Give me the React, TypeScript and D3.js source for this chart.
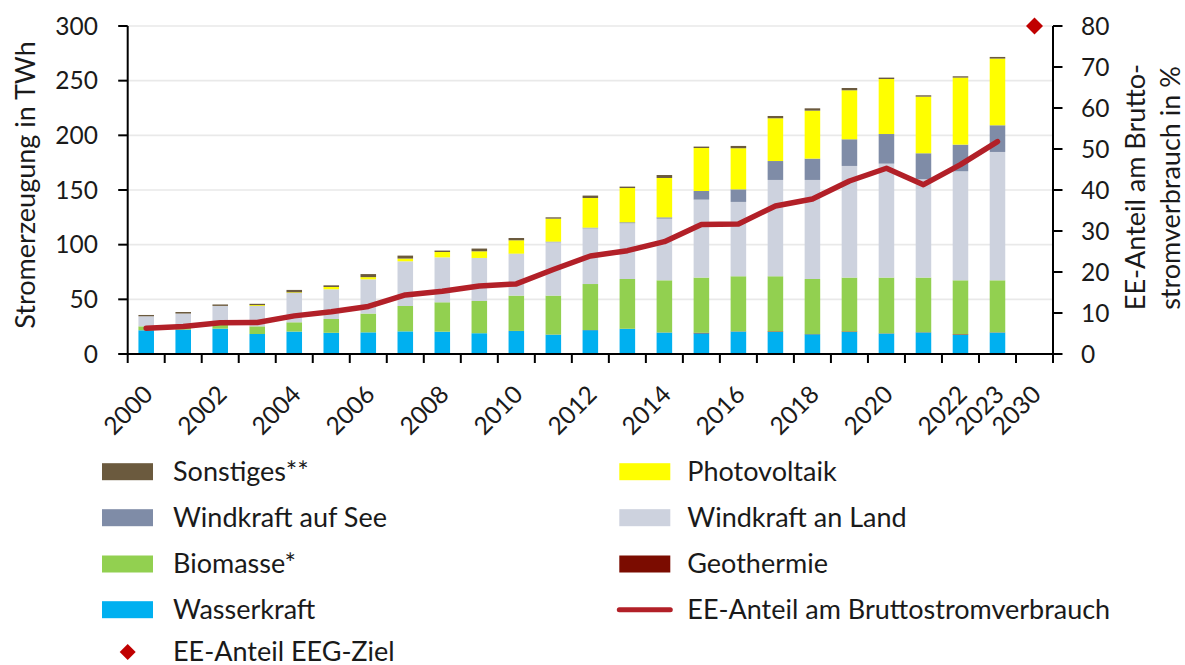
import React from 'react';
import * as d3 from 'd3';

// ---------- data ----------
const years = [
  '2000', '2001', '2002', '2003', '2004', '2005', '2006', '2007', '2008', '2009',
  '2010', '2011', '2012', '2013', '2014', '2015', '2016', '2017', '2018', '2019',
  '2020', '2021', '2022', '2023', '2030',
];
const tickLabels = [
  '2000', '2002', '2004', '2006', '2008', '2010', '2012', '2014', '2016', '2018',
  '2020', '2022', '2023', '2030',
];
const barYears = years.slice(0, 24);

const wasserkraft = [21.7, 22.3, 23.2, 18.3, 20.5, 19.4, 19.8, 20.7, 20.4, 19.0, 21.0, 17.7, 21.8, 23.0, 19.6, 18.9, 20.5, 20.2, 18.0, 20.1, 18.7, 19.7, 17.6, 19.6];
const geothermie = [0, 0, 0, 0, 0, 0, 0, 0, 0, 0, 0.1, 0.1, 0.1, 0.1, 0.1, 0.5, 0.2, 0.5, 0.2, 0.5, 0.2, 0.2, 0.5, 0.2];
const biomasse = [3.6, 3.8, 3.4, 7.0, 8.5, 12.6, 17.2, 23.2, 26.9, 29.5, 32.3, 35.6, 42.1, 45.5, 47.7, 50.5, 50.4, 50.4, 50.4, 49.3, 51.0, 50.0, 49.3, 47.6];
const windkraftLand = [9.2, 10.9, 17.3, 18.6, 26.8, 27.2, 31.3, 40.9, 41.1, 39.3, 38.2, 48.8, 50.9, 51.0, 56.4, 71.3, 68.0, 88.1, 90.6, 102.1, 104.2, 89.9, 99.7, 117.4];
const windkraftSee = [0, 0, 0, 0, 0, 0, 0, 0, 0, 0.04, 0.2, 0.6, 0.7, 0.9, 1.2, 7.9, 11.5, 17.3, 19.5, 24.4, 27.1, 23.8, 24.4, 24.4];
const photovoltaik = [0, 0, 0.1, 0.8, 0.6, 2.1, 2.0, 2.5, 4.9, 6.1, 12.2, 21.0, 27.1, 31.3, 36.0, 39.3, 37.6, 39.1, 43.9, 44.8, 50.3, 51.8, 61.3, 61.0];
const sonstiges = [1.2, 1.4, 1.3, 1.2, 2.2, 1.5, 2.8, 2.7, 1.3, 2.5, 2.1, 1.2, 2.2, 1.3, 2.7, 1.3, 2.1, 2.1, 2.1, 2.1, 1.3, 1.2, 1.2, 1.5];
const eeAnteil = [6.3, 6.7, 7.6, 7.7, 9.3, 10.3, 11.6, 14.4, 15.3, 16.6, 17.1, 20.6, 23.9, 25.2, 27.4, 31.6, 31.7, 36.1, 37.8, 42.2, 45.3, 41.3, 46.2, 51.8];
const eegZielYears = ['2030'];
const eegZielValues = [80];

const leftTicks = [0, 50, 100, 150, 200, 250, 300];
const rightTicks = [0, 10, 20, 30, 40, 50, 60, 70, 80];

const seriesKeys = ['Wasserkraft', 'Geothermie', 'Biomasse*', 'Windkraft an Land', 'Windkraft auf See', 'Photovoltaik', 'Sonstiges**'];
const seriesValues = [wasserkraft, geothermie, biomasse, windkraftLand, windkraftSee, photovoltaik, sonstiges];
const seriesColors = ['#00B0F0', '#7B0C00', '#92D050', '#CDD2DE', '#7F8CA7', '#FFFF00', '#6B5A3E'];

const lineColor = '#B22028';
const diamondColor = '#C00000';
const FONT = "Lato, 'Open Sans', sans-serif";
const TEXT = '#1a1a1a';
const FS_NUM = 24.5;
const FS_TXT = 27;

// ---------- layout ----------
const W = 1185;
const H = 665;
const PL = 127.7;
const PR = 1053;
const PT = 26;
const PB = 354;

export default function App() {
  const x = d3.scaleBand<string>().domain(years).range([PL, PR]).paddingInner(0.58).paddingOuter(0.29);
  const yL = d3.scaleLinear().domain([0, 300]).range([PB, PT]);
  const yR = d3.scaleLinear().domain([0, 80]).range([PB, PT]);
  const bw = x.bandwidth();
  const cx = (yr: string) => (x(yr) as number) + bw / 2;

  const table = barYears.map((yr, i) => {
    const row: Record<string, any> = { year: yr };
    seriesKeys.forEach((k, j) => (row[k] = seriesValues[j][i]));
    return row;
  });
  const stacked = d3.stack<Record<string, any>>().keys(seriesKeys)(table);

  const line = d3
    .line<number>()
    .x((_, i) => cx(barYears[i]))
    .y((d) => yR(d))
    .curve(d3.curveLinear);

  const boundaries = d3.range(years.length + 1).map((i) => PL + i * x.step());
  const diamond = d3.symbol().type(d3.symbolSquare);

  const legendLeft = [
    { label: 'Sonstiges**', type: 'rect', color: seriesColors[6] },
    { label: 'Windkraft auf See', type: 'rect', color: seriesColors[4] },
    { label: 'Biomasse*', type: 'rect', color: seriesColors[2] },
    { label: 'Wasserkraft', type: 'rect', color: seriesColors[0] },
    { label: 'EE-Anteil EEG-Ziel', type: 'diamond', color: diamondColor },
  ];
  const legendRight = [
    { label: 'Photovoltaik', type: 'rect', color: seriesColors[5] },
    { label: 'Windkraft an Land', type: 'rect', color: seriesColors[3] },
    { label: 'Geothermie', type: 'rect', color: seriesColors[1] },
    { label: 'EE-Anteil am Bruttostromverbrauch', type: 'line', color: lineColor },
  ];
  const rowY = [471.7, 517.7, 564, 609.7, 652];

  const renderLegend = (items: any[], sx: number, tx: number) =>
    items.map((it, i) => {
      const yy = rowY[i];
      return (
        <g key={it.label}>
          {it.type === 'rect' && <rect x={sx} y={yy - 8.5} width={51} height={17} fill={it.color} />}
          {it.type === 'line' && (
            <line x1={sx} x2={sx + 51} y1={yy} y2={yy} stroke={it.color} strokeWidth={5} strokeLinecap="round" />
          )}
          {it.type === 'diamond' && (
            <path d={diamond.size(128)() as string} transform={`translate(${sx + 25.7},${yy}) rotate(45)`} fill={it.color} />
          )}
          <text x={tx} y={yy} dy="0.35em" fontSize={FS_TXT} fill={TEXT}>
            {it.label}
          </text>
        </g>
      );
    });

  return (
    <svg width={W} height={H} style={{ position: 'absolute', left: 0, top: 0, background: '#fff' }} fontFamily={FONT}>
      <rect x={0} y={0} width={W} height={H} fill="#fff" />
      {/* gridlines */}
      {leftTicks.slice(1).map((t) => (
        <line key={t} x1={PL} x2={PR} y1={yL(t)} y2={yL(t)} stroke="#E9E9E9" strokeWidth={1.6} />
      ))}

      {/* bars */}
      {stacked.map((s, j) => (
        <g key={s.key} fill={seriesColors[j]}>
          {s.map((d, i) => {
            const h = yL(d[0]) - yL(d[1]);
            if (h <= 0) return null;
            return <rect key={i} x={x(barYears[i])} y={yL(d[1])} width={bw} height={h} />;
          })}
        </g>
      ))}

      {/* EE share line */}
      <path d={line(eeAnteil) as string} fill="none" stroke={lineColor} strokeWidth={5.5} strokeLinejoin="round" strokeLinecap="round" />

      {/* EEG target */}
      {eegZielYears.map((yr, i) => (
        <path key={yr} d={diamond.size(144)() as string} transform={`translate(${cx(yr)},${yR(eegZielValues[i])}) rotate(45)`} fill={diamondColor} />
      ))}

      {/* axes */}
      <g stroke="#000" strokeWidth={2}>
        <line x1={PL} x2={PL} y1={PT} y2={PB} />
        <line x1={PR} x2={PR} y1={PT} y2={PB} />
        <line x1={PL - 1} x2={PR + 1} y1={PB} y2={PB} />
        {leftTicks.map((t) => (
          <line key={'l' + t} x1={PL - 9.5} x2={PL} y1={yL(t)} y2={yL(t)} />
        ))}
        {rightTicks.map((t) => (
          <line key={'r' + t} x1={PR} x2={PR + 9.5} y1={yR(t)} y2={yR(t)} />
        ))}
        {boundaries.map((bx, i) => (
          <line key={'b' + i} x1={bx} x2={bx} y1={PB} y2={PB + 9} />
        ))}
      </g>

      {/* tick labels */}
      <g fontSize={FS_NUM} fill={TEXT}>
        {leftTicks.map((t) => (
          <text key={'lt' + t} x={98} y={yL(t)} dy="0.35em" textAnchor="end">
            {t}
          </text>
        ))}
        {rightTicks.map((t) => (
          <text key={'rt' + t} x={1081} y={yR(t)} dy="0.35em" textAnchor="start">
            {t}
          </text>
        ))}
        {tickLabels.map((lab) => (
          <text key={'x' + lab} transform={`translate(${cx(lab) + 2},${390}) rotate(-45)`} dy="0.35em" textAnchor="end">
            {lab}
          </text>
        ))}
      </g>

      {/* axis titles */}
      <g fontSize={FS_TXT} fill={TEXT} textAnchor="middle">
        <text transform={`translate(26,185) rotate(-90)`} dy="0.35em">
          Stromerzeugung in TWh
        </text>
        <text transform={`translate(1136,187) rotate(-90)`} dy="0.35em">
          EE-Anteil am Brutto-
        </text>
        <text transform={`translate(1171,188) rotate(-90)`} dy="0.35em">
          stromverbrauch in %
        </text>
      </g>

      {/* legend */}
      <g fontFamily={FONT}>
        {renderLegend(legendLeft, 102, 173)}
        {renderLegend(legendRight, 619.3, 687.3)}
      </g>
    </svg>
  );
}
